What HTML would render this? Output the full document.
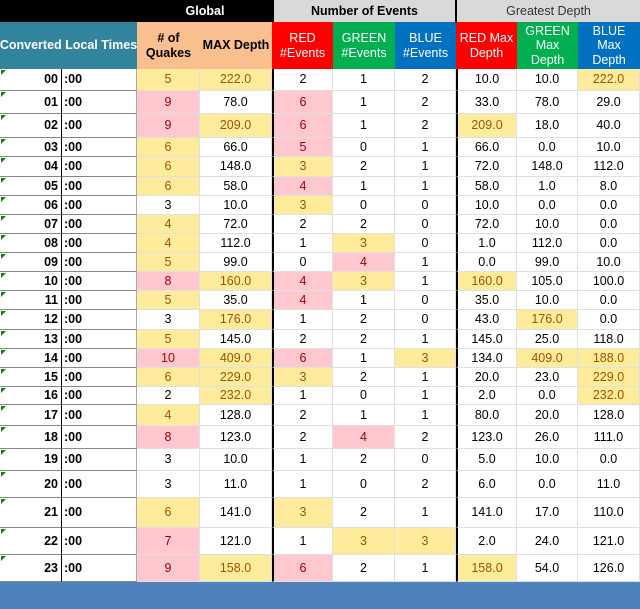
<!DOCTYPE html>
<html><head><meta charset="utf-8"><style>
body{margin:0;width:640px;height:609px;position:relative;overflow:hidden;background:#fff;font-family:"Liberation Sans",sans-serif;}
.c{position:absolute;box-sizing:border-box;display:flex;align-items:center;justify-content:center;font-size:12.5px;color:#000;text-align:center;line-height:1.15;}
.h{font-weight:bold;color:#fff;font-size:12px;}
</style></head><body>
<div id="t"></div>
<script>
const hours=["00","01","02","03","04","05","06","07","08","09","10","11","12","13","14","15","16","17","18","19","20","21","22","23"];
const quakes=["5y","9p","9p","6y","6y","6y","3","4y","4y","5y","8p","5y","3","5y","10p","6y","2","4y","8p","3","3","6y","7p","9p"];
const maxDepth=["222.0y","78.0","209.0y","66.0","148.0","58.0","10.0","72.0","112.0","99.0","160.0y","35.0","176.0y","145.0","409.0y","229.0y","232.0y","128.0","123.0","10.0","11.0","141.0","121.0","158.0y"];
const redEv=["2","6p","6p","5p","3y","4p","3y","2","1","0","4p","4p","1","2","6p","3y","1","2","2","1","1","3y","1","6p"];
const greenEv=["1","1","1","0","2","1","0","2","3y","4p","3y","1","2","2","1","2","0","1","4p","2","0","2","3y","2"];
const blueEv=["2","2","2","1","1","1","0","0","0","1","1","0","0","1","3y","1","1","1","2","0","2","1","3y","1"];
const redMax=["10.0","33.0","209.0y","66.0","72.0","58.0","10.0","72.0","1.0","0.0","160.0y","35.0","43.0","145.0","134.0","20.0","2.0","80.0","123.0","5.0","6.0","141.0","2.0","158.0y"];
const greenMax=["10.0","78.0","18.0","0.0","148.0","1.0","0.0","10.0","112.0","99.0","105.0","10.0","176.0y","25.0","409.0y","23.0","0.0","20.0","26.0","10.0","0.0","17.0","24.0","54.0"];
const blueMax=["222.0y","29.0","40.0","10.0","112.0","8.0","0.0","0.0","0.0","10.0","100.0","0.0","0.0","118.0","188.0y","229.0y","232.0y","128.0","111.0","0.0","11.0","110.0","121.0","126.0"];
const rowY=[69,91,114,138,157,177,196,215,234,253,272,291,310,330,349,368,387,405,426,449,471,498,528,555,582];
const t=document.getElementById('t');
function cell(x,y,w,h,txt,st,name){const d=document.createElement('div');d.className='c';


d.style.left=x+'px';d.style.top=y+'px';d.style.width=w+'px';d.style.height=h+'px';d.textContent=txt;Object.assign(d.style,st||{});t.appendChild(d);return d;}
// top header
cell(0,0,272,22,'Global',{background:'#000',color:'#fff',fontWeight:'bold',paddingLeft:'138px'},'global-header');
cell(272,0,184,22,'Number of Events',{background:'#d9d9d9',fontWeight:'bold',borderLeft:'2px solid #000',borderRight:'1px solid #000'},'events-header');
cell(456,0,184,22,'Greatest Depth',{background:'#d9d9d9',color:'#333',borderLeft:'1px solid #000'},'depth-header');
const hc=[[0,137,'Converted Local Times','#31849b','#fff'],[137,63,'# of Quakes','#fabf8f','#000'],[200,72,'MAX Depth','#fabf8f','#000'],[272,61,'RED #Events','#ff0000','#fff'],[333,62,'GREEN #Events','#00b050','#fff'],[395,61,'BLUE #Events','#0070c0','#fff'],[456,61,'RED Max Depth','#ff0000','#fff'],[517,61,'GREEN Max Depth','#00b050','#fff'],[578,62,'BLUE Max Depth','#0070c0','#fff']];
hc.forEach((h,i)=>{const d=cell(h[0],22,h[1],47,h[2],{background:h[3],color:h[4],fontWeight:(i<3?'bold':'normal'),fontSize:'12.5px',padding:'0 2px'},'col-header-'+i);if(i==0)d.style.whiteSpace='nowrap';});
const cols=[[quakes,137,63],[maxDepth,200,72],[redEv,272,61],[greenEv,333,62],[blueEv,395,61],[redMax,456,61],[greenMax,517,61],[blueMax,578,62]];
hours.forEach((hr,r)=>{const y=rowY[r],h=rowY[r+1]-y;
 cell(0,y,62,h,hr,{justifyContent:'flex-end',paddingRight:'3px',fontWeight:'bold',borderBottom:'1px solid #888',borderRight:'1px solid #000'},'hour-'+hr);
 cell(62,y,75,h,':00',{justifyContent:'flex-start',paddingLeft:'2px',fontWeight:'bold',borderBottom:'1px solid #888',borderRight:'1px solid #aaa'},'minutes-'+hr);
 const tri=document.createElement('div');
 
 
 tri.style.cssText='position:absolute;left:1px;top:'+(y+1)+'px;width:0;height:0;border-top:5px solid #1a7a1a;border-right:5px solid transparent;';t.appendChild(tri);
 cols.forEach((c,ci)=>{let v=c[0][r],bg='#fff',fg='#000';
  if(v.endsWith('y')){v=v.slice(0,-1);bg='#ffeb9c';fg='#9c5700';}else if(v.endsWith('p')){v=v.slice(0,-1);bg='#ffc7ce';fg='#9c0006';}
  const st={background:bg,color:fg,borderBottom:'1px solid #e0e0e0',borderRight:'1px solid #e0e0e0'};
  if(ci==2||ci==5)st.borderLeft='2px solid #000';
  cell(c[1],y,c[2],h,v,st,'value-'+ci+'-'+hr);});
});
cell(0,582,640,27,'',{background:'#4f81bd'},'footer-bar');
</script>
</body></html>
